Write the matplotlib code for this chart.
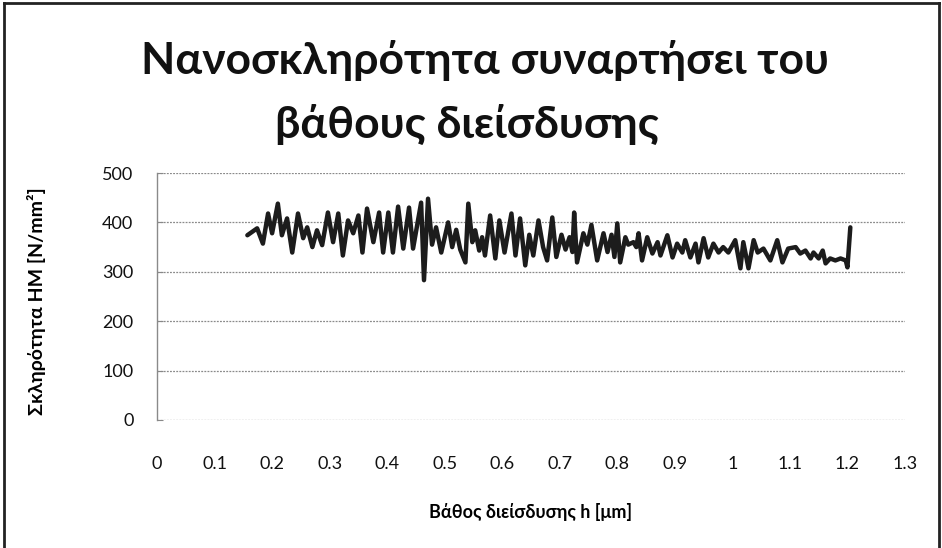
import matplotlib
matplotlib.use("Agg")
import matplotlib.pyplot as plt
from matplotlib.lines import Line2D
from matplotlib.ticker import FuncFormatter

# Penetration depth h [um]
depth = [
    0.157, 0.174, 0.184, 0.193, 0.200, 0.210, 0.217, 0.226, 0.235, 0.245,
    0.254, 0.261, 0.270, 0.278, 0.287, 0.297, 0.306, 0.315, 0.323, 0.332,
    0.341, 0.350, 0.357, 0.365, 0.376, 0.386, 0.393, 0.402, 0.410, 0.419,
    0.428, 0.438, 0.445, 0.459, 0.464, 0.471, 0.478, 0.485, 0.494, 0.506,
    0.513, 0.520, 0.527, 0.536, 0.541, 0.548, 0.553, 0.560, 0.565, 0.570,
    0.579, 0.588, 0.595, 0.604, 0.616, 0.623, 0.631, 0.640, 0.647, 0.654,
    0.663, 0.671, 0.678, 0.687, 0.694, 0.703, 0.710, 0.717, 0.722, 0.725,
    0.730, 0.741, 0.748, 0.755, 0.765, 0.776, 0.783, 0.790, 0.795, 0.800,
    0.805, 0.814, 0.819, 0.828, 0.833, 0.837, 0.843, 0.852, 0.861, 0.870,
    0.875, 0.887, 0.896, 0.904, 0.913, 0.918, 0.927, 0.936, 0.941, 0.950,
    0.958, 0.967, 0.976, 0.984, 0.993, 1.005, 1.014, 1.019, 1.028, 1.037,
    1.044, 1.054, 1.066, 1.078, 1.087, 1.097, 1.110, 1.118, 1.127, 1.136,
    1.141, 1.150, 1.157, 1.162, 1.170, 1.179, 1.188, 1.197, 1.200, 1.205,
]

# Hardness HM [N/mm^2]
hardness = [
    374, 388, 357, 418, 378, 438, 374, 408, 339, 418,
    368, 390, 350, 384, 354, 420, 360, 418, 333, 404,
    378, 414, 339, 428, 360, 420, 339, 420, 339, 432,
    347, 430, 347, 440, 283, 448, 355, 390, 339, 400,
    350, 385, 345, 319, 438, 360, 384, 343, 370, 333,
    414, 327, 404, 339, 418, 333, 408, 313, 375, 333,
    404, 350, 323, 410, 330, 375, 345, 370, 340, 420,
    319, 378, 355, 395, 323, 378, 340, 375, 330, 398,
    319, 370, 355, 360, 350, 378, 323, 370, 337, 360,
    333, 374, 329, 357, 339, 364, 329, 357, 319, 368,
    329, 357, 339, 350, 339, 364, 307, 360, 307, 364,
    339, 347, 323, 364, 319, 347, 350, 337, 343, 327,
    339, 327, 343, 317, 327, 323, 327, 323, 309, 390,
]

x_ticks = [0, 0.1, 0.2, 0.3, 0.4, 0.5, 0.6, 0.7, 0.8, 0.9, 1.0, 1.1, 1.2, 1.3]
y_ticks = [0, 100, 200, 300, 400, 500]

plt.rcParams["font.family"] = ["Lato", "DejaVu Sans"]

fig = plt.figure(figsize=(9.42, 5.48), dpi=100)
fig.patch.set_facecolor("white")

ax = fig.add_axes([0.1667, 0.2336, 0.794, 0.4507])
ax.plot(depth, hardness, color="#1c1c1c", linewidth=3.2,
        solid_joinstyle="round", solid_capstyle="round")

ax.set_xlim(0, 1.3)
ax.set_ylim(0, 500)
ax.set_xticks(x_ticks)
ax.set_yticks(y_ticks)
ax.xaxis.set_major_formatter(FuncFormatter(lambda v, p: f"{v:g}"))
ax.tick_params(axis="x", length=0, pad=26, labelsize=13, colors="#111111")
ax.tick_params(axis="y", length=4, direction="in", pad=17, labelsize=13,
               colors="#111111", color="#888888")

ax.grid(axis="y", color="#8a8a8a", linestyle=(0, (1.5, 1.0)), linewidth=0.9)
ax.grid(axis="x", visible=False)
for side in ("top", "right", "bottom"):
    ax.spines[side].set_visible(False)
ax.spines["left"].set_color("#8a8a8a")
ax.spines["left"].set_linewidth(1.0)

ax.set_ylabel("Σκληρότητα HM [N/mm²]", fontsize=14, fontweight="bold")
ax.yaxis.set_label_coords(-0.148, 0.48)
ax.set_xlabel("Βάθος διείσδυσης h [μm]", fontsize=13, fontweight="bold", labelpad=22)

fig.text(0.515, 0.890, "Νανοσκληρότητα συναρτήσει του", ha="center", va="center",
         fontsize=32, fontweight="bold", color="#111111")
fig.text(0.496, 0.772, "βάθους διείσδυσης", ha="center", va="center",
         fontsize=32, fontweight="bold", color="#111111")

# Frame around the chart area (left, top and right edges)
frame_kw = dict(color="#222222", linewidth=2.0, transform=fig.transFigure)
fig.add_artist(Line2D([0.004, 0.004], [0.0, 0.995], **frame_kw))
fig.add_artist(Line2D([0.004, 0.997], [0.995, 0.995], **frame_kw))
fig.add_artist(Line2D([0.997, 0.997], [0.0, 0.995], **frame_kw))

fig.savefig("out.png", dpi=100, facecolor="white")
